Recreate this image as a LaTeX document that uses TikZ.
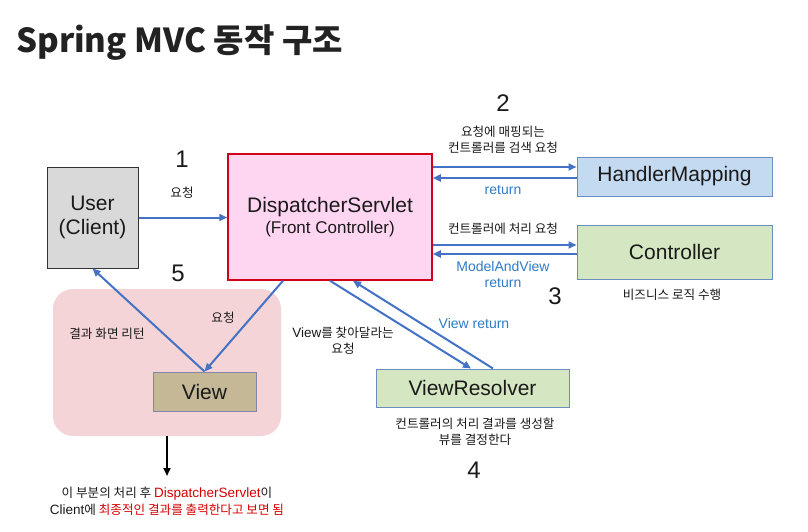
\documentclass[tikz,border=0pt]{standalone}
\usepackage{fontspec}
\setmainfont{Liberation Sans}
\newfontfamily\kr{Noto Sans CJK KR}
\usetikzlibrary{arrows.meta,calc}
\newcommand\fsz[2]{\fontsize{#1}{#2}\selectfont}
\newcommand\ko[1]{{\kr\fontsize{12.6}{16}\selectfont #1}}
\definecolor{arrowblue}{HTML}{4472C4}
\definecolor{retblue}{HTML}{2F7BC8}
\definecolor{txt}{HTML}{1A1A1A}
\definecolor{userfill}{HTML}{D9D9D9}
\definecolor{dsfill}{HTML}{FFD6F1}
\definecolor{dsborder}{HTML}{D0021B}
\definecolor{hmfill}{HTML}{C4DAF0}
\definecolor{bxborder}{HTML}{6C8EBF}
\definecolor{grfill}{HTML}{D4E7C2}
\definecolor{viewfill}{HTML}{C4B897}
\definecolor{viewborder}{HTML}{8585A8}
\definecolor{pinkfill}{HTML}{F4D4D6}
\definecolor{redtxt}{HTML}{D40000}
\definecolor{titlecol}{HTML}{222222}
\tikzset{
  box/.style={draw, rectangle, inner sep=0pt, align=center, font=\fsz{21}{24}, text=txt, line width=1pt},
  arr/.style={draw=arrowblue, line width=2pt, -{Triangle[length=8pt,width=7pt]}},
  blk/.style={draw=black, line width=2pt, -{Triangle[length=8pt,width=7pt]}},
  lbl/.style={align=center, font=\kr\fsz{12.6}{16}, text=txt, inner sep=0pt},
  blbl/.style={align=center, font=\fsz{14}{16}, text=retblue, inner sep=0pt},
  num/.style={font=\fsz{24}{24}, text=txt, inner sep=0pt},
}
\begin{document}
\begin{tikzpicture}[x=1pt,y=-1pt]
\useasboundingbox[fill=white] (0,0) rectangle (808,532);

\node[anchor=base west, inner sep=0pt, font=\kr\bfseries\fsz{33}{33}, text=titlecol] (title) at (16,53) {Spring MVC 동작 구조};

% pink region
\node[fill=pinkfill, rounded corners=20pt, minimum width=228pt, minimum height=147pt, inner sep=0pt] (pink) at (167,362.5) {};

% boxes
\node[box, fill=userfill, draw=black!80, minimum width=91pt, minimum height=101pt] (user) at (92.5,217.5) {User\\(Client)};
\node[box, fill=dsfill, draw=dsborder, line width=1.5pt, minimum width=204pt, minimum height=126pt] (ds) at (330,217) {DispatcherServlet\\[-3pt]{\fsz{17}{20}(Front Controller)}};
\node[box, fill=hmfill, draw=bxborder, minimum width=195pt, minimum height=39pt] (hm) at (674.5,176.5) {HandlerMapping};
\node[box, fill=grfill, draw=bxborder, minimum width=195pt, minimum height=54pt] (ctrl) at (674.5,252) {Controller};
\node[box, fill=viewfill, draw=viewborder, minimum width=103pt, minimum height=39pt] (view) at (204.5,391.5) {View};
\node[box, fill=grfill, draw=bxborder, minimum width=193pt, minimum height=38pt] (vr) at (472.5,388) {ViewResolver};

% coordinates
\coordinate (hmA) at ([yshift=9.5pt]hm.west);
\coordinate (hmB) at ([yshift=-1.5pt]hm.west);
\coordinate (ctA) at ([yshift=7pt]ctrl.west);
\coordinate (ctB) at ([yshift=-2pt]ctrl.west);
\coordinate (dsV) at ([xshift=-47pt]ds.south);
\coordinate (vrA) at ([xshift=-1.5pt]vr.north);
\coordinate (vrB) at ([xshift=20.5pt]vr.north);
\coordinate (dsR) at ([xshift=23pt]ds.south);
\coordinate (note) at (167,476);

% arrows
\draw[arr] (user.east) -- (user.east -| ds.west);
\draw[arr] (ds.east |- hmA) -- (hmA);
\draw[arr] (hmB) -- (ds.east |- hmB);
\draw[arr] (ds.east |- ctA) -- (ctA);
\draw[arr] (ctB) -- (ds.east |- ctB);
\draw[arr] (dsV) -- (view.north);
\draw[arr] (view.north) -- (user.south);
\draw[arr] (ds.south) -- (vrA);
\draw[arr] (vrB) -- (dsR);
\draw[blk] (pink.south) -- (note);

% labels
\node[num] (n1) at (182,159) {1};
\node[lbl] (l1) at (182,193) {요청};
\node[num] (n2) at (503,103) {2};
\node[lbl] (l2) at (503,140) {요청에 매핑되는\\컨트롤러를 검색 요청};
\node[blbl] (r2) at (503,190) {return};
\node[lbl] (l3) at (503,229) {컨트롤러에 처리 요청};
\node[blbl] (r3) at (503,274.5) {ModelAndView\\return};
\node[num] (n3) at (555,296) {3};
\node[lbl] (l3b) at (672,295) {비즈니스 로직 수행};
\node[num] (n5) at (178,273) {5};
\node[lbl] (l5a) at (107,334) {결과 화면 리턴};
\node[lbl] (l5b) at (223,318) {요청};
\node[align=center, inner sep=0pt, font=\fsz{13.5}{16}, text=txt] (l4a) at (343,341) {View\ko{를 찾아달라는}\\\ko{요청}};
\node[blbl] (r4) at (474,323) {View return};
\node[lbl] (l4b) at (475,432) {컨트롤러의 처리 결과를 생성할\\뷰를 결정한다};
\node[num] (n4) at (474,470) {4};
\node[align=center, inner sep=0pt, font=\fsz{13.5}{17}, text=txt] (bottom) at (167,501) {\ko{이 부분의 처리 후 }\textcolor{redtxt}{DispatcherServlet}\ko{이}\\Client\ko{에 }{\color{redtxt}\ko{최종적인 결과를 출력한다고 보면 됨}}};
\end{tikzpicture}
\end{document}
